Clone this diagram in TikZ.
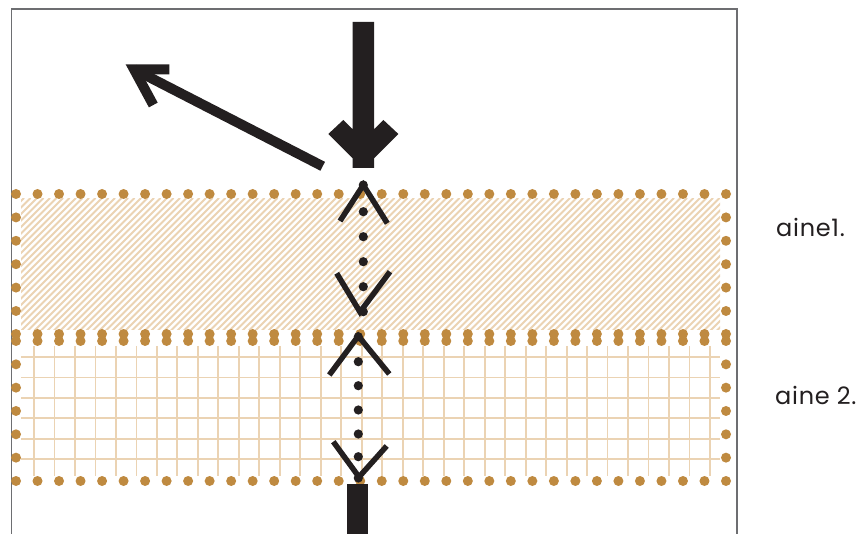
\documentclass[tikz,border=0pt]{standalone}
\usepackage{fontspec}
\setmainfont{Poppins}
\definecolor{ink}{HTML}{231F20}
\definecolor{framegray}{HTML}{6D6E71}
\definecolor{dotbrown}{HTML}{BF8A40}
\definecolor{lighttan}{HTML}{EBD3B3}
\tikzset{
  frameline/.style={draw=framegray, line width=1.5pt},
  bdot/.style={fill=dotbrown},
  kdot/.style={fill=ink},
  hatchline/.style={draw=lighttan, line width=1.8pt},
  gridline/.style={draw=lighttan, line width=1.8pt},
  chev/.style={draw=ink, line width=5.5pt, line join=miter, line cap=butt},
  bigstroke/.style={draw=ink, line width=10pt, line cap=butt},
  label/.style={inner sep=0pt, anchor=base west, text=ink, font=\fontsize{24}{24}\selectfont\addfontfeatures{LetterSpace=3}}
}
\begin{document}
\begin{tikzpicture}[x=1pt, y=-1pt]
\useasboundingbox (0,0) rectangle (865,534);
% frame
\draw[frameline] (11.5,534) -- (11.5,9) -- (737,9) -- (737,534);
% hatch in upper layer
\begin{scope}
  \clip (21,199) rectangle (720,330);
  \foreach \i in {-22,...,110} {
    \draw[hatchline] ({21+\i*6.5},331) -- ({21+\i*6.5+133},198);
  }
\end{scope}
% grid in lower layer
\foreach \i in {0,...,33} {
  \draw[gridline] ({34+20.485*\i},346) -- ({34+20.485*\i},476);
}
\foreach \j in {0,...,5} {
  \draw[gridline] (21,{357+20.45*\j}) -- (720,{357+20.45*\j});
}
% brown dotted borders
\foreach \i in {0,...,33} {
  \fill[bdot] ({16+21.515*\i},194) circle (5);
  \fill[bdot] ({16+21.515*\i},334) circle (5);
  \fill[bdot] ({16+21.515*\i},341) circle (5);
  \fill[bdot] ({16+21.515*\i},481) circle (5);
}
\foreach \j in {1,...,5} {
  \fill[bdot] (16,{194+23.4*\j}) circle (5);
  \fill[bdot] (726,{194+23.4*\j}) circle (5);
  \fill[bdot] (16,{341+23.33*\j}) circle (5);
  \fill[bdot] (726,{341+23.33*\j}) circle (5);
}
% incoming thick arrow
\fill[ink] (352.7,22) -- (352.7,129.4) -- (343.3,120) -- (328.3,134) -- (352.7,158.4) -- (352.7,168)
  -- (374,168) -- (374,158.4) -- (398.4,134) -- (383.4,120) -- (374,129.4) -- (374,22) -- cycle;
% reflected arrow
\coordinate (rtip) at (134,69.3);
\coordinate (rtail) at (322.7,166.3);
\draw[bigstroke] (rtail) -- (rtip);
\draw[bigstroke, line join=miter] (169.3,69.3) -- (rtip) -- (153.3,105);
% chevrons in upper layer
\draw[chev] (340,221) -- (363.3,185) -- (387.3,223.3);
\draw[chev] (336.7,273.3) -- (360,312) -- (390,271.7);
% chevrons in lower layer
\draw[chev] (329.3,375) -- (358.3,336) -- (389.3,374);
\draw[chev] (333.3,441.7) -- (359,477) -- (386.7,446);
% black dots
\foreach \y in {185,211.7,236.7,261.7,286.7,311.7} {
  \fill[kdot] (363.3,\y) circle (4.6);
}
\foreach \y in {336.7,361.7,385.7,410,434,456.7,478} {
  \fill[kdot] (358.3,\y) circle (4.6);
}
% outgoing shaft
\fill[ink] (346.7,484) rectangle (368.3,534);
% labels
\node[label] (layer1) at (776,236.7) {aine1.};
\node[label] (layer2) at (775,404.3) {aine 2.};
\end{tikzpicture}
\end{document}
